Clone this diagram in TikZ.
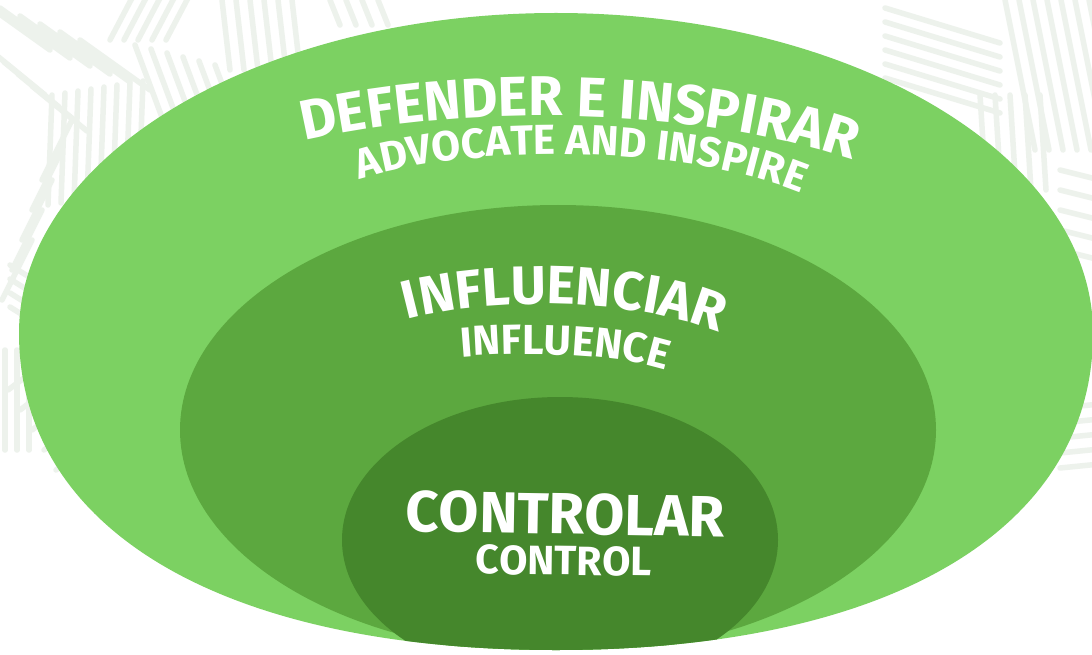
\documentclass[tikz,border=0pt]{standalone}
\usepackage{fontspec}
\newfontfamily\lbl{Fira Sans}
\usetikzlibrary{decorations.text}
\definecolor{outerg}{HTML}{7CD162}
\definecolor{midg}{HTML}{5CA83F}
\definecolor{inng}{HTML}{45872C}
\definecolor{leafc}{HTML}{EDF2EC}
\begin{document}
\begin{tikzpicture}[x=1pt,y=-1pt,
  leaf/.style={draw=leafc, line width=5.5pt, line cap=round},
  arctext/.style={decorate, decoration={text along path, text align=center, text color=white}}]
\useasboundingbox (0,0) rectangle (1092,655);
\fill[white] (0,0) rectangle (1092,655);

% background leaf strokes
\foreach \i in {0,...,5} \draw[leaf] ({-20+\i*20},{\i*8}) -- ++(70,50);
\foreach \i in {0,...,3} \draw[leaf] ({-10+\i*14},{50+\i*12}) -- ++(55,45);
\foreach \i in {0,...,7} \draw[leaf] ({52+\i*13},{95-\i*2}) -- ++(-4,110);
\foreach \i in {0,...,5} \draw[leaf] ({135+\i*16},{45+\i*4}) -- ++(28,75);
\foreach \i in {0,...,4} \draw[leaf] ({110+\i*14},{40}) -- ++(22,-42);
\foreach \i in {0,...,5} \draw[leaf] ({222+\i*14},{0}) -- ++(8,70);
\foreach \i in {0,...,4} \draw[leaf] ({2+\i*10},{300-\i*30}) -- ++(30,-60);
\foreach \i in {0,...,3} \draw[leaf] ({330+\i*16},{0}) -- ++(10,25);
\foreach \i in {0,...,5} \draw[leaf] (885,{8+\i*14}) -- ++(115,35);
\foreach \i in {0,...,6} \draw[leaf] ({1005+\i*14},{0}) -- ++(30,150);
\foreach \i in {0,...,4} \draw[leaf] ({980+\i*15},{95}) -- ++(6,95);
\foreach \i in {0,...,4} \draw[leaf] (1060,{170+\i*20}) -- ++(40,10);
\foreach \i in {0,...,4} \draw[leaf] (1060,{408+\i*15}) -- ++(40,-4);
\foreach \i in {0,...,4} \draw[leaf] ({8+\i*12},{390+\i*20}) -- ++(40,-30);
\foreach \i in {0,...,2} \draw[leaf] ({5+\i*12},{350}) -- ++(0,100);
\foreach \i in {0,...,3} \draw[leaf] ({10},{265+\i*14}) -- ++(40,25);

% outer shape
\fill[outerg] (19,333) .. controls (19,156) and (259,13) .. (556,13)
  .. controls (853,13) and (1093,156) .. (1093,333)
  .. controls (1093,530) and (889,650) .. (556,650)
  .. controls (223,650) and (19,530) .. (19,333) -- cycle;
\begin{scope}
\clip (19,333) .. controls (19,156) and (259,13) .. (556,13)
  .. controls (853,13) and (1093,156) .. (1093,333)
  .. controls (1093,530) and (889,650) .. (556,650)
  .. controls (223,650) and (19,530) .. (19,333) -- cycle;
\fill[midg] (558,430) ellipse [x radius=378pt, y radius=225pt];
\fill[inng] (560,540) ellipse [x radius=218pt, y radius=143pt];
\end{scope}

% texts
\path[arctext, decoration={text={|\lbl\bfseries\fontsize{56}{60}\selectfont|DEFENDER E INSPIRAR}}]
  (226,159) -- (305,141) .. controls (460,105) and (690,105) .. (852,160) -- (928,186);
\path[arctext, decoration={text={|\lbl\bfseries\fontsize{42}{48}\selectfont|ADVOCATE AND INSPIRE}}]
  (284,203) -- (360,179) .. controls (470,144) and (680,144) .. (800,193) -- (874,223);
\path[arctext, decoration={text={|\lbl\bfseries\fontsize{54}{60}\selectfont|INFLUENCIAR}}]
  (322,346) -- (398,322) .. controls (480,296) and (640,296) .. (727,336) -- (800,370);
\path[arctext, decoration={text={|\lbl\bfseries\fontsize{42}{48}\selectfont|INFLUENCE}}]
  (382,364) -- (462,357) .. controls (520,352) and (610,352) .. (666,370) -- (742,394);
\path[arctext, decoration={text={|\lbl\bfseries\fontsize{58}{64}\selectfont|CONTROLAR}}]
  (330,530) -- (800,538);
\path[arctext, decoration={text={|\lbl\bfseries\fontsize{41}{46}\selectfont|CONTROL}}]
  (400,573) -- (727,577);
\end{tikzpicture}
\end{document}
